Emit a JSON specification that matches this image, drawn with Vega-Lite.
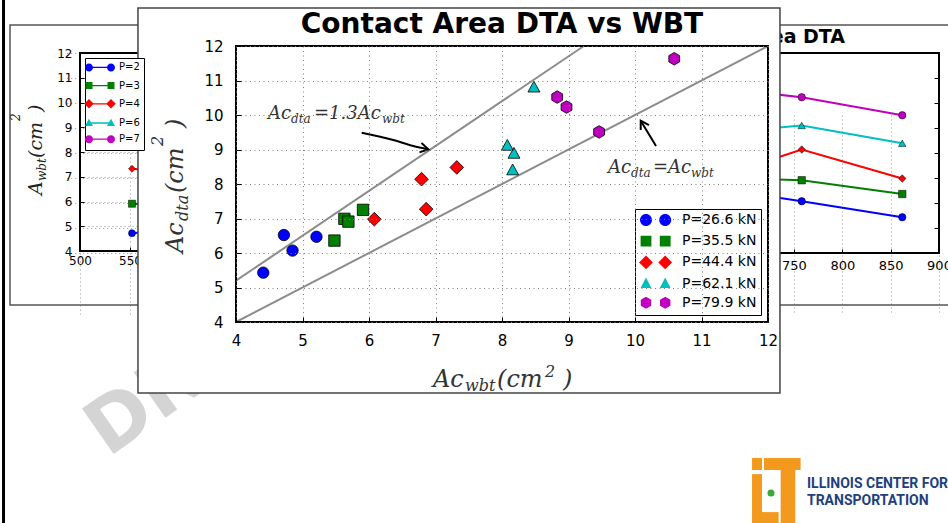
{
  "$schema": "https://vega.github.io/schema/vega-lite/v6.json",
  "width": 532,
  "height": 276,
  "autosize": {"type": "none"},
  "padding": {"left": 236, "top": 46, "right": 180, "bottom": 201},
  "background": "white",
  "config": {
    "view": {"stroke": null},
    "font": "DejaVu Sans",
    "axis": {"labelOverlap": false, "labelFlush": false, "format": "d", "domain": false, "ticks": true, "tickColor": "black", "tickWidth": 1, "grid": true, "gridDash": [1, 3.5], "gridColor": "#808080", "gridWidth": 1, "labelColor": "black", "tickCount": 12},
    "axisX": {"labelFontSize": 15, "labelPadding": 16, "tickSize": -5, "zindex": 1},
    "axisY": {"labelFontSize": 15, "labelPadding": 18, "tickSize": -5, "zindex": 1}
  },
  "datasets": {
    "tests": [
      {"load": "P=26.6 kN", "pressure": 552, "wbt": 4.72, "dta": 6.52},
      {"load": "P=26.6 kN", "pressure": 690, "wbt": 5.21, "dta": 6.47},
      {"load": "P=26.6 kN", "pressure": 758, "wbt": 4.85, "dta": 6.07},
      {"load": "P=26.6 kN", "pressure": 862, "wbt": 4.41, "dta": 5.43},
      {"load": "P=35.5 kN", "pressure": 552, "wbt": 5.91, "dta": 7.25},
      {"load": "P=35.5 kN", "pressure": 690, "wbt": 5.63, "dta": 6.99},
      {"load": "P=35.5 kN", "pressure": 758, "wbt": 5.69, "dta": 6.91},
      {"load": "P=35.5 kN", "pressure": 862, "wbt": 5.48, "dta": 6.36},
      {"load": "P=44.4 kN", "pressure": 552, "wbt": 7.32, "dta": 8.48},
      {"load": "P=44.4 kN", "pressure": 690, "wbt": 6.86, "dta": 7.27},
      {"load": "P=44.4 kN", "pressure": 758, "wbt": 6.79, "dta": 8.14},
      {"load": "P=44.4 kN", "pressure": 862, "wbt": 6.08, "dta": 6.98},
      {"load": "P=62.1 kN", "pressure": 552, "wbt": 8.48, "dta": 10.79},
      {"load": "P=62.1 kN", "pressure": 690, "wbt": 8.18, "dta": 8.87},
      {"load": "P=62.1 kN", "pressure": 758, "wbt": 8.08, "dta": 9.10},
      {"load": "P=62.1 kN", "pressure": 862, "wbt": 8.16, "dta": 8.39},
      {"load": "P=79.9 kN", "pressure": 552, "wbt": 10.59, "dta": 11.63},
      {"load": "P=79.9 kN", "pressure": 690, "wbt": 8.83, "dta": 10.52},
      {"load": "P=79.9 kN", "pressure": 758, "wbt": 8.97, "dta": 10.23},
      {"load": "P=79.9 kN", "pressure": 862, "wbt": 9.46, "dta": 9.51}
    ],
    "arrow1": [{"x": 5.890, "y": 9.487}, {"x": 6.365, "y": 9.275}, {"x": 6.666, "y": 9.101}, {"x": 6.892, "y": 9.006}],
    "annBig": [{"t": "Ac", "x": 4.481, "y": 9.875}, {"t": "=1.3Ac", "x": 5.173, "y": 9.875}, {"t": "Ac", "x": 9.594, "y": 8.328}, {"t": "=Ac", "x": 10.271, "y": 8.328}],
    "annSmall": [{"t": "dta", "x": 4.827, "y": 9.768}, {"t": "wbt", "x": 6.195, "y": 9.768}, {"t": "dta", "x": 9.940, "y": 8.217}, {"t": "wbt", "x": 10.842, "y": 8.217}],
    "xtBig": [{"t": "Ac", "x": 6.962, "y": 2.116}, {"t": "(cm", "x": 7.925, "y": 2.116}, {"t": ")", "x": 8.917, "y": 2.116}],
    "xtSmall": [{"t": "wbt", "x": 7.444, "y": 2.001}, {"t": "2", "x": 8.647, "y": 2.406}],
    "ytBig": [{"t": "Ac", "x": 3.203, "y": 6.001}, {"t": "(cm", "x": 3.203, "y": 7.739}, {"t": ")", "x": 3.203, "y": 9.623}],
    "ytSmall": [{"t": "dta", "x": 3.278, "y": 6.928}, {"t": "2", "x": 2.902, "y": 9.10}],
    "lytBig": [{"t": "A", "x": 462, "y": 6.263}, {"t": "(cm", "x": 462, "y": 7.758}, {"t": ")", "x": 462, "y": 9.616}],
    "lytSmall": [{"t": "wbt", "x": 466, "y": 6.828}, {"t": "2", "x": 440, "y": 9.253}],
    "logoText": [{"t": "ILLINOIS CENTER FOR", "x": 12.586, "y": -0.826}, {"t": "TRANSPORTATION", "x": 12.586, "y": -1.304}]
  },
  "resolve": {"scale": {"x": "independent", "y": "independent", "color": "independent", "shape": "independent"}},
  "layer": [
    {
      "resolve": {"scale": {"shape": "independent", "color": "independent"}},
      "layer": [
        {
          "data": {"values": [{}]},
          "mark": {"type": "rect", "fill": null, "stroke": "#555", "strokeWidth": 1.5},
          "encoding": {"x": {"datum": 430, "type": "quantitative"}, "x2": {"datum": 720}, "y": {"datum": 1.818, "type": "quantitative"}, "y2": {"datum": 13.131}}
        },
        {
          "data": {"name": "tests"},
          "mark": {"type": "line", "strokeWidth": 2},
          "encoding": {
            "x": {"field": "pressure", "type": "quantitative", "scale": {"domain": [500, 900], "range": [-156, 244], "nice": false, "zero": false},
              "axis": {"orient": "bottom", "offset": -71, "values": [500, 550], "tickCount": 12, "format": "d", "title": null, "domain": false, "grid": true, "gridColor": "#999", "gridDash": [1, 3], "ticks": true, "tickSize": -4, "tickColor": "black", "labelFontSize": 12, "labelColor": "black", "labelPadding": 8, "labelFlush": false, "labelOverlap": false, "zindex": 0}},
            "y": {"field": "wbt", "type": "quantitative", "scale": {"domain": [4, 12], "range": [205, 7], "nice": false, "zero": false},
              "axis": {"orient": "left", "offset": 156, "values": [4, 5, 6, 7, 8, 9, 10, 11, 12], "tickCount": 12, "format": "d", "title": null, "domain": false, "grid": true, "gridColor": "#999", "gridDash": [1, 3], "ticks": true, "tickSize": -4, "tickColor": "black", "labelFontSize": 12, "labelColor": "black", "labelPadding": 12, "labelOverlap": false, "zindex": 0}},
            "color": {"field": "load", "type": "nominal", "scale": {"domain": ["P=26.6 kN", "P=35.5 kN", "P=44.4 kN", "P=62.1 kN", "P=79.9 kN"], "range": ["#0000ff", "#008000", "#ff0000", "#00bfbf", "#bf00bf"]}, "legend": null}
          }
        },
        {
          "data": {"name": "tests"},
          "mark": {"type": "point", "filled": true, "size": 50, "stroke": "black", "strokeWidth": 0.5, "opacity": 1},
          "encoding": {
            "x": {"field": "pressure", "type": "quantitative"},
            "y": {"field": "wbt", "type": "quantitative"},
            "color": {"field": "load", "type": "nominal", "scale": {"domain": ["P=26.6 kN", "P=35.5 kN", "P=44.4 kN", "P=62.1 kN", "P=79.9 kN"], "range": ["#0000ff", "#008000", "#ff0000", "#00bfbf", "#bf00bf"]}, "legend": null},
            "shape": {"field": "load", "type": "nominal", "scale": {"domain": ["P=26.6 kN", "P=35.5 kN", "P=44.4 kN", "P=62.1 kN", "P=79.9 kN"], "range": ["circle", "square", "diamond", "triangle-up", "circle"]}, "legend": null}
          }
        },
        {
          "data": {"name": "tests"},
          "mark": {"type": "point", "filled": true, "size": 100, "opacity": 0},
          "encoding": {
            "x": {"field": "pressure", "type": "quantitative"},
            "y": {"field": "wbt", "type": "quantitative"},
            "color": {"field": "load", "type": "nominal", "scale": {"domain": ["P=26.6 kN", "P=35.5 kN", "P=44.4 kN", "P=62.1 kN", "P=79.9 kN"], "range": ["#0000ff", "#008000", "#ff0000", "#00bfbf", "#bf00bf"]},
              "legend": {"orient": "none", "legendX": -151, "legendY": 12, "title": null, "padding": 3.4, "rowPadding": 3.2, "labelFontSize": 10, "labelColor": "black", "labelOffset": 18.6, "labelExpr": "substring(datum.label, 0, 3)", "symbolSize": 100, "symbolOpacity": 1, "strokeColor": "black", "fillColor": "white"}},
            "shape": {"field": "load", "type": "nominal", "scale": {"domain": ["P=26.6 kN", "P=35.5 kN", "P=44.4 kN", "P=62.1 kN", "P=79.9 kN"], "range": [
                "M-1.08,-0.13H3.32V0.13H-1.08ZM-0.28,0A0.8,0.8,0,1,1,-1.88,0A0.8,0.8,0,1,1,-0.28,0ZM4.12,0A0.8,0.8,0,1,1,2.52,0A0.8,0.8,0,1,1,4.12,0Z",
                "M-1.08,-0.13H3.32V0.13H-1.08ZM-1.78,-0.7H-0.38V0.7H-1.78ZM2.62,-0.7H4.02V0.7H2.62Z",
                "M-1.08,-0.13H3.32V0.13H-1.08ZM-1.08,-0.95L-0.13,0L-1.08,0.95L-2.03,0ZM3.32,-0.95L4.27,0L3.32,0.95L2.37,0Z",
                "M-1.08,-0.13H3.32V0.13H-1.08ZM-1.08,-0.85L-0.28,0.6L-1.88,0.6ZM3.32,-0.85L4.12,0.6L2.52,0.6Z",
                "M-1.08,-0.13H3.32V0.13H-1.08ZM-0.28,0.01A0.8,0.8,0,1,1,-1.88,0A0.8,0.8,0,1,1,-0.28,0.01ZM4.12,0.01A0.8,0.8,0,1,1,2.52,0A0.8,0.8,0,1,1,4.12,0.01Z"]},
              "legend": {"orient": "none", "legendX": -151, "legendY": 12, "title": null, "padding": 3.4, "rowPadding": 3.2, "labelFontSize": 10, "labelColor": "black", "labelOffset": 18.6, "labelExpr": "substring(datum.label, 0, 3)", "symbolSize": 100, "symbolOpacity": 1, "strokeColor": "black", "fillColor": "white"}}
          }
        },
        {
          "data": {"values": [{}]},
          "mark": {"type": "rect", "fill": null, "stroke": "black", "strokeWidth": 2},
          "encoding": {"x": {"datum": 500, "type": "quantitative"}, "x2": {"datum": 900}, "y": {"datum": 4, "type": "quantitative"}, "y2": {"datum": 12}}
        },
        {
          "data": {"name": "lytBig"},
          "mark": {"type": "text", "angle": 270, "align": "left", "baseline": "alphabetic", "font": "DejaVu Serif", "fontStyle": "italic", "fontSize": 19, "color": "#222"},
          "encoding": {"x": {"field": "x", "type": "quantitative"}, "y": {"field": "y", "type": "quantitative"}, "text": {"field": "t"}}
        },
        {
          "data": {"name": "lytSmall"},
          "mark": {"type": "text", "angle": 270, "align": "left", "baseline": "alphabetic", "font": "DejaVu Serif", "fontStyle": "italic", "fontSize": 12, "color": "#222"},
          "encoding": {"x": {"field": "x", "type": "quantitative"}, "y": {"field": "y", "type": "quantitative"}, "text": {"field": "t"}}
        }
      ]
    },
    {
      "layer": [
        {
          "data": {"values": [{}]},
          "mark": {"type": "rect", "fill": null, "stroke": "#555", "strokeWidth": 1.5},
          "encoding": {"x": {"datum": 549, "type": "quantitative"}, "x2": {"datum": 925}, "y": {"datum": 1.92, "type": "quantitative"}, "y2": {"datum": 13.12}}
        },
        {
          "data": {"name": "tests"},
          "mark": {"type": "line", "strokeWidth": 2},
          "encoding": {
            "x": {"field": "pressure", "type": "quantitative", "scale": {"domain": [500, 900], "range": [316.3, 703], "nice": false, "zero": false},
              "axis": {"orient": "bottom", "offset": -69, "values": [750, 800, 850, 900], "tickCount": 12, "format": "d", "title": null, "domain": false, "grid": true, "gridColor": "#999", "gridDash": [1, 3], "ticks": true, "tickSize": -4, "tickColor": "black", "labelFontSize": 13, "labelColor": "black", "labelPadding": 10, "labelFlush": false, "labelOverlap": false, "zindex": 0}},
            "y": {"field": "dta", "type": "quantitative", "scale": {"domain": [4, 12], "range": [207, 7], "nice": false, "zero": false},
              "axis": {"orient": "right", "offset": 170, "values": [4, 5, 6, 7, 8, 9, 10, 11, 12], "tickCount": 12, "format": "d", "title": null, "labels": false, "domain": false, "grid": true, "gridColor": "#999", "gridDash": [1, 3], "ticks": true, "tickSize": -4, "tickColor": "black", "zindex": 0}},
            "color": {"field": "load", "type": "nominal", "scale": {"domain": ["P=26.6 kN", "P=35.5 kN", "P=44.4 kN", "P=62.1 kN", "P=79.9 kN"], "range": ["#0000ff", "#008000", "#ff0000", "#00bfbf", "#bf00bf"]}, "legend": null}
          }
        },
        {
          "data": {"name": "tests"},
          "mark": {"type": "point", "filled": true, "size": 55, "stroke": "black", "strokeWidth": 0.5, "opacity": 1},
          "encoding": {
            "x": {"field": "pressure", "type": "quantitative"},
            "y": {"field": "dta", "type": "quantitative"},
            "color": {"field": "load", "type": "nominal", "legend": null},
            "shape": {"field": "load", "type": "nominal", "scale": {"domain": ["P=26.6 kN", "P=35.5 kN", "P=44.4 kN", "P=62.1 kN", "P=79.9 kN"], "range": ["circle", "square", "diamond", "triangle-up", "circle"]}, "legend": null}
          }
        },
        {
          "data": {"values": [{}]},
          "mark": {"type": "rect", "fill": null, "stroke": "black", "strokeWidth": 2},
          "encoding": {"x": {"datum": 500, "type": "quantitative"}, "x2": {"datum": 900}, "y": {"datum": 4, "type": "quantitative"}, "y2": {"datum": 12}}
        },
        {
          "data": {"values": [{}]},
          "mark": {"type": "text", "text": "Area DTA", "align": "right", "baseline": "alphabetic", "fontSize": 19, "fontWeight": "bold", "font": "DejaVu Sans", "color": "black"},
          "encoding": {"x": {"datum": 802.8, "type": "quantitative"}, "y": {"datum": 12.39, "type": "quantitative"}}
        }
      ]
    },
    {
      "resolve": {"scale": {"color": "independent", "shape": "independent"}},
      "layer": [
        {
          "data": {"values": [{}]},
          "mark": {"type": "text", "text": "DRAFT", "angle": 325, "align": "left", "baseline": "alphabetic", "font": "DejaVu Sans", "fontWeight": "bold", "fontSize": 76, "color": "#d4d4d4"},
          "encoding": {"x": {"datum": 2.075, "type": "quantitative"}, "y": {"datum": 0.058, "type": "quantitative"}}
        },
        {
          "data": {"values": [{}]},
          "mark": {"type": "rect", "fill": "white", "stroke": "#444", "strokeWidth": 1.5},
          "encoding": {"x": {"datum": 2.526, "type": "quantitative"}, "x2": {"datum": 12.18}, "y": {"datum": 1.942, "type": "quantitative"}, "y2": {"datum": 13.101}}
        },
        {
          "data": {"values": [{}]},
          "mark": {"type": "text", "text": "Contact Area DTA vs WBT", "align": "center", "baseline": "alphabetic", "fontSize": 28, "fontWeight": "bold", "font": "DejaVu Sans", "color": "black"},
          "encoding": {"x": {"datum": 8, "type": "quantitative"}, "y": {"datum": 12.368, "type": "quantitative"}}
        },
        {
          "data": {"values": [{}]},
          "mark": {"type": "rule", "color": "#8c8c8c", "strokeWidth": 2},
          "encoding": {"x": {"datum": 4, "type": "quantitative"}, "y": {"datum": 4, "type": "quantitative"}, "x2": {"datum": 12}, "y2": {"datum": 12}}
        },
        {
          "data": {"values": [{}]},
          "mark": {"type": "rule", "color": "#8c8c8c", "strokeWidth": 2},
          "encoding": {"x": {"datum": 4, "type": "quantitative"}, "y": {"datum": 5.2, "type": "quantitative"}, "x2": {"datum": 9.2308}, "y2": {"datum": 12}}
        },
        {
          "data": {"name": "tests"},
          "mark": {"type": "point", "filled": true, "size": 130, "stroke": "black", "strokeWidth": 0.8, "opacity": 1},
          "encoding": {
            "x": {"field": "wbt", "type": "quantitative", "scale": {"domain": [4, 12], "nice": false, "zero": false},
              "axis": {"orient": "bottom", "values": [4, 5, 6, 7, 8, 9, 10, 11, 12], "tickCount": 12, "format": "d", "title": null, "domain": false, "grid": true, "gridColor": "#808080", "gridDash": [1, 3.5], "gridWidth": 1, "ticks": true, "tickSize": -5, "tickColor": "black", "tickWidth": 1, "labelFontSize": 15, "labelColor": "black", "labelPadding": 16, "labelFlush": false, "labelOverlap": false, "zindex": 1}},
            "y": {"field": "dta", "type": "quantitative", "scale": {"domain": [4, 12], "nice": false, "zero": false},
              "axis": {"orient": "left", "values": [4, 5, 6, 7, 8, 9, 10, 11, 12], "tickCount": 12, "format": "d", "title": null, "domain": false, "grid": true, "gridColor": "#808080", "gridDash": [1, 3.5], "gridWidth": 1, "ticks": true, "tickSize": -5, "tickColor": "black", "tickWidth": 1, "labelFontSize": 15, "labelColor": "black", "labelPadding": 18, "labelOverlap": false, "zindex": 1}},
            "color": {"field": "load", "type": "nominal", "scale": {"domain": ["P=26.6 kN", "P=35.5 kN", "P=44.4 kN", "P=62.1 kN", "P=79.9 kN"], "range": ["#0000ff", "#008000", "#ff0000", "#00bfbf", "#bf00bf"]}, "legend": null},
            "shape": {"field": "load", "type": "nominal", "scale": {"domain": ["P=26.6 kN", "P=35.5 kN", "P=44.4 kN", "P=62.1 kN", "P=79.9 kN"], "range": ["circle", "square", "M0,-1.2L1.2,0L0,1.2L-1.2,0Z", "M0,-1.15L1.05,0.75L-1.05,0.75Z", "M0,-1.1L0.95,-0.55L0.95,0.55L0,1.1L-0.95,0.55L-0.95,-0.55Z"]}, "legend": null}
          }
        },
        {
          "data": {"name": "tests"},
          "mark": {"type": "point", "filled": true, "size": 144, "opacity": 0},
          "encoding": {
            "x": {"field": "wbt", "type": "quantitative"},
            "y": {"field": "dta", "type": "quantitative"},
            "color": {"field": "load", "type": "nominal", "scale": {"domain": ["P=26.6 kN", "P=35.5 kN", "P=44.4 kN", "P=62.1 kN", "P=79.9 kN"], "range": ["#0000ff", "#008000", "#ff0000", "#00bfbf", "#bf00bf"]},
              "legend": {"orient": "bottom-right", "offset": 7, "title": null, "padding": 4, "rowPadding": 4.2, "labelFontSize": 14, "labelColor": "black", "labelOffset": 29, "symbolSize": 144, "symbolOpacity": 1, "symbolStrokeColor": "black", "symbolStrokeWidth": 1, "strokeColor": "black", "fillColor": "white", "cornerRadius": 0}},
            "shape": {"field": "load", "type": "nominal", "scale": {"domain": ["P=26.6 kN", "P=35.5 kN", "P=44.4 kN", "P=62.1 kN", "P=79.9 kN"], "range": [
                "M1,0A1,1,0,1,1,-1,0A1,1,0,1,1,1,0ZM4.2,0A1,1,0,1,1,2.2,0A1,1,0,1,1,4.2,0Z",
                "M-0.9,-0.9H0.9V0.9H-0.9ZM2.3,-0.9H4.1V0.9H2.3Z",
                "M0,-1.15L1.15,0L0,1.15L-1.15,0ZM3.2,-1.15L4.35,0L3.2,1.15L2.05,0Z",
                "M0,-1L0.9,0.75L-0.9,0.75ZM3.2,-1L4.1,0.75L2.3,0.75Z",
                "M0,-1L0.87,-0.5L0.87,0.5L0,1L-0.87,0.5L-0.87,-0.5ZM3.2,-1L4.07,-0.5L4.07,0.5L3.2,1L2.33,0.5L2.33,-0.5Z"]},
              "legend": {"orient": "bottom-right", "offset": 7, "title": null, "padding": 4, "rowPadding": 4.2, "labelFontSize": 14, "labelColor": "black", "labelOffset": 29, "symbolSize": 144, "symbolOpacity": 1, "symbolStrokeColor": "black", "symbolStrokeWidth": 1, "strokeColor": "black", "fillColor": "white", "cornerRadius": 0}}
          }
        },
        {
          "data": {"values": [{}]},
          "mark": {"type": "rect", "fill": null, "stroke": "black", "strokeWidth": 2},
          "encoding": {"x": {"datum": 4, "type": "quantitative"}, "x2": {"datum": 12}, "y": {"datum": 4, "type": "quantitative"}, "y2": {"datum": 12}}
        },
        {
          "data": {"name": "arrow1"},
          "mark": {"type": "line", "color": "black", "strokeWidth": 2, "interpolate": "monotone"},
          "encoding": {"x": {"field": "x", "type": "quantitative"}, "y": {"field": "y", "type": "quantitative"}}
        },
        {
          "data": {"values": [{}]},
          "mark": {"type": "point", "shape": "M-1,-0.6L0,0L-1,0.6", "filled": false, "size": 256, "stroke": "black", "strokeWidth": 2, "opacity": 1, "angle": 12},
          "encoding": {"x": {"datum": 6.892, "type": "quantitative"}, "y": {"datum": 9.006, "type": "quantitative"}}
        },
        {
          "data": {"values": [{}]},
          "mark": {"type": "rule", "color": "black", "strokeWidth": 2},
          "encoding": {"x": {"datum": 10.316, "type": "quantitative"}, "y": {"datum": 9.101, "type": "quantitative"}, "x2": {"datum": 10.086}, "y2": {"datum": 9.835}}
        },
        {
          "data": {"values": [{}]},
          "mark": {"type": "point", "shape": "M-1,-0.6L0,0L-1,0.6", "filled": false, "size": 256, "stroke": "black", "strokeWidth": 2, "opacity": 1, "angle": 239},
          "encoding": {"x": {"datum": 10.086, "type": "quantitative"}, "y": {"datum": 9.835, "type": "quantitative"}}
        },
        {
          "data": {"name": "annBig"},
          "mark": {"type": "text", "align": "left", "baseline": "alphabetic", "font": "DejaVu Serif", "fontStyle": "italic", "fontSize": 18, "color": "#333"},
          "encoding": {"x": {"field": "x", "type": "quantitative"}, "y": {"field": "y", "type": "quantitative"}, "text": {"field": "t"}}
        },
        {
          "data": {"name": "annSmall"},
          "mark": {"type": "text", "align": "left", "baseline": "alphabetic", "font": "DejaVu Serif", "fontStyle": "italic", "fontSize": 12, "color": "#333"},
          "encoding": {"x": {"field": "x", "type": "quantitative"}, "y": {"field": "y", "type": "quantitative"}, "text": {"field": "t"}}
        },
        {
          "data": {"name": "xtBig"},
          "mark": {"type": "text", "align": "left", "baseline": "alphabetic", "font": "DejaVu Serif", "fontStyle": "italic", "fontSize": 24, "color": "#333"},
          "encoding": {"x": {"field": "x", "type": "quantitative"}, "y": {"field": "y", "type": "quantitative"}, "text": {"field": "t"}}
        },
        {
          "data": {"name": "xtSmall"},
          "mark": {"type": "text", "align": "left", "baseline": "alphabetic", "font": "DejaVu Serif", "fontStyle": "italic", "fontSize": 16, "color": "#333"},
          "encoding": {"x": {"field": "x", "type": "quantitative"}, "y": {"field": "y", "type": "quantitative"}, "text": {"field": "t"}}
        },
        {
          "data": {"name": "ytBig"},
          "mark": {"type": "text", "angle": 270, "align": "left", "baseline": "alphabetic", "font": "DejaVu Serif", "fontStyle": "italic", "fontSize": 24, "color": "#333"},
          "encoding": {"x": {"field": "x", "type": "quantitative"}, "y": {"field": "y", "type": "quantitative"}, "text": {"field": "t"}}
        },
        {
          "data": {"name": "ytSmall"},
          "mark": {"type": "text", "angle": 270, "align": "left", "baseline": "alphabetic", "font": "DejaVu Serif", "fontStyle": "italic", "fontSize": 16, "color": "#333"},
          "encoding": {"x": {"field": "x", "type": "quantitative"}, "y": {"field": "y", "type": "quantitative"}, "text": {"field": "t"}}
        },
        {
          "data": {"values": [{}]},
          "mark": {"type": "rect", "color": "#f39a1e"},
          "encoding": {"x": {"datum": 11.76, "type": "quantitative"}, "x2": {"datum": 11.91}, "y": {"datum": -0.41, "type": "quantitative"}, "y2": {"datum": -1.95}}
        },
        {
          "data": {"values": [{}]},
          "mark": {"type": "rect", "color": "#f39a1e"},
          "encoding": {"x": {"datum": 11.76, "type": "quantitative"}, "x2": {"datum": 11.91}, "y": {"datum": 0.06, "type": "quantitative"}, "y2": {"datum": -0.29}}
        },
        {
          "data": {"values": [{}]},
          "mark": {"type": "rect", "color": "#f39a1e"},
          "encoding": {"x": {"datum": 11.91, "type": "quantitative"}, "x2": {"datum": 12.16}, "y": {"datum": -1.51, "type": "quantitative"}, "y2": {"datum": -1.95}}
        },
        {
          "data": {"values": [{}]},
          "mark": {"type": "rect", "color": "#f39a1e"},
          "encoding": {"x": {"datum": 11.94, "type": "quantitative"}, "x2": {"datum": 12.49}, "y": {"datum": 0.06, "type": "quantitative"}, "y2": {"datum": -0.29}}
        },
        {
          "data": {"values": [{}]},
          "mark": {"type": "rect", "color": "#f39a1e"},
          "encoding": {"x": {"datum": 12.19, "type": "quantitative"}, "x2": {"datum": 12.41}, "y": {"datum": -0.29, "type": "quantitative"}, "y2": {"datum": -1.95}}
        },
        {
          "data": {"values": [{}]},
          "mark": {"type": "point", "shape": "circle", "filled": true, "size": 50, "color": "#3aa935", "opacity": 1},
          "encoding": {"x": {"datum": 12.045, "type": "quantitative"}, "y": {"datum": -0.957, "type": "quantitative"}}
        },
        {
          "data": {"name": "logoText"},
          "mark": {"type": "text", "align": "left", "baseline": "alphabetic", "font": "Roboto", "fontWeight": "bold", "fontSize": 14, "color": "#1f3f7f"},
          "encoding": {"x": {"field": "x", "type": "quantitative"}, "y": {"field": "y", "type": "quantitative"}, "text": {"field": "t"}}
        },
        {
          "data": {"values": [{}]},
          "mark": {"type": "rule", "color": "black", "strokeWidth": 3},
          "encoding": {"x": {"datum": 0.504, "type": "quantitative"}, "y": {"datum": -2.5, "type": "quantitative"}, "y2": {"datum": 14.6}}
        }
      ]
    }
  ]
}
